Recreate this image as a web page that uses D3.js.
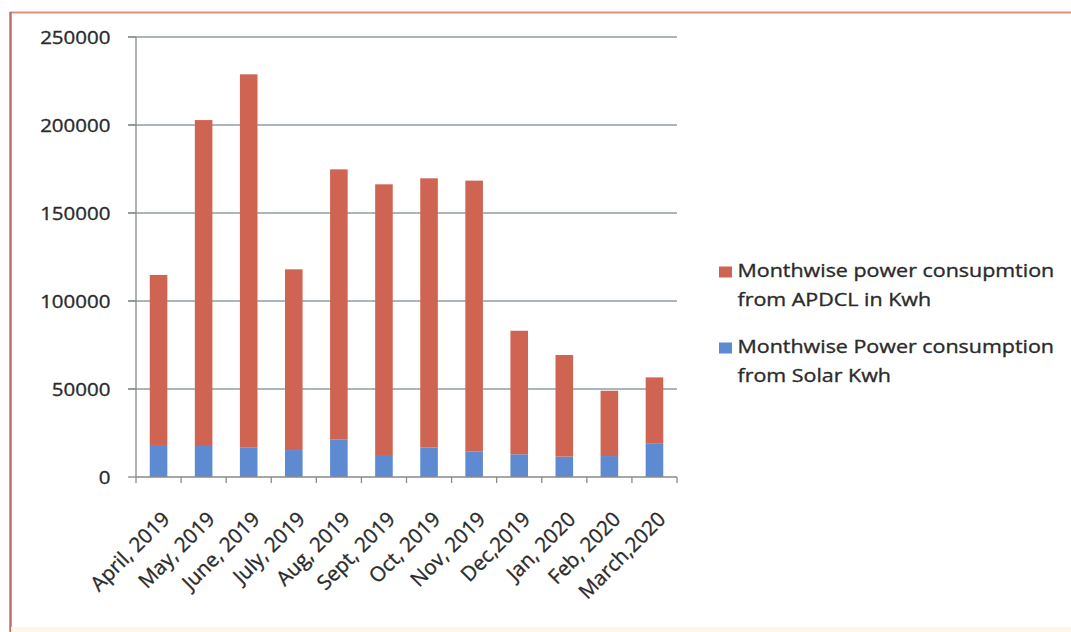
<!DOCTYPE html>
<html>
<head>
<meta charset="utf-8">
<script src="https://cdn.jsdelivr.net/npm/d3@7"></script>
<style>
  html, body { margin: 0; padding: 0; background: #ffffff; }
  svg { display: block; }
  text { font-family: "Open Sans", "DejaVu Sans", sans-serif; fill: #2b2b2b; stroke: #2b2b2b; stroke-width: 0.35px; }
</style>
</head>
<body>
<svg id="chart" width="1071" height="632"></svg>
<script>
// Monthly power consumption, April 2019 – March 2020 (kWh)
const months = ["April, 2019", "May, 2019", "June, 2019", "July, 2019", "Aug, 2019",
  "Sept, 2019", "Oct, 2019", "Nov, 2019", "Dec,2019", "Jan, 2020", "Feb, 2020", "March,2020"];
const solarKwh = [18200, 17600, 16900, 15300, 21400, 12500, 16700, 14400, 12900, 11600, 11900, 19200];
const apdclKwh = [96600, 185200, 211900, 102700, 153400, 153800, 153000, 154000, 70200, 57700, 37100, 37400];
const yTicks = [0, 50000, 100000, 150000, 200000, 250000];
const seriesNames = ["Monthwise power consupmtion from APDCL in Kwh", "Monthwise Power consumption from Solar Kwh"];
const legendLines = [["Monthwise power consupmtion", "from APDCL in Kwh"], ["Monthwise Power consumption", "from Solar Kwh"]];

const svg = d3.select("#chart");
const colors = { apdcl: "#cf6453", solar: "#5d8ad0" };

// outer frame
svg.append("rect").attr("x", 0).attr("y", 0).attr("width", 1071).attr("height", 632).attr("fill", "#ffffff");
svg.append("line").attr("x1", 10).attr("y1", 12.5).attr("x2", 1071).attr("y2", 12.5)
  .attr("stroke", "#e08f7c").attr("stroke-width", 2);
svg.append("line").attr("x1", 10.5).attr("y1", 12).attr("x2", 10.5).attr("y2", 632)
  .attr("stroke", "#c06f68").attr("stroke-width", 2.5);
svg.append("rect").attr("x", 11).attr("y", 627).attr("width", 1060).attr("height", 5)
  .attr("fill", "#fbf8e4");

const x = d3.scaleBand().domain(months).range([136, 677]).padding(0);
const y = d3.scaleLinear().domain([0, 250000]).range([477, 37]);

// gridlines
svg.append("g").selectAll("line").data(yTicks.filter(d => d > 0)).join("line")
  .attr("x1", 128).attr("x2", 677)
  .attr("y1", d => y(d)).attr("y2", d => y(d))
  .attr("stroke", "#8c9fa4").attr("stroke-width", 1.5);

// y axis
const yAxis = svg.append("g");
yAxis.append("line").attr("x1", 136).attr("x2", 136).attr("y1", y(250000)).attr("y2", y(0))
  .attr("stroke", "#8a8a8a").attr("stroke-width", 1.3);
yAxis.selectAll("line.tick").data(yTicks).join("line").attr("class", "tick")
  .attr("x1", 128).attr("x2", 136).attr("y1", d => y(d)).attr("y2", d => y(d))
  .attr("stroke", "#8a8a8a").attr("stroke-width", 1.3);
yAxis.selectAll("text").data(yTicks).join("text")
  .attr("transform", d => `translate(110.5,${y(d) + 6.5}) scale(1.08,1)`)
  .attr("text-anchor", "end")
  .style("font-size", "19px")
  .text(d => d);

// stacked bars: solar at the bottom, APDCL on top
const stackData = months.map((m, i) => ({ month: m, solar: solarKwh[i], apdcl: apdclKwh[i] }));
const stack = d3.stack().keys(["solar", "apdcl"])(stackData);
const barW = x.bandwidth() * 0.39;
svg.append("g").selectAll("g").data(stack).join("g")
  .attr("fill", s => colors[s.key])
  .selectAll("rect").data(s => s).join("rect")
  .attr("x", d => x(d.data.month) + (x.bandwidth() - barW) / 2)
  .attr("width", barW)
  .attr("y", d => y(d[1]))
  .attr("height", d => y(d[0]) - y(d[1]));

// x axis
const xAxis = svg.append("g");
xAxis.append("line").attr("x1", 136).attr("x2", 677).attr("y1", y(0)).attr("y2", y(0))
  .attr("stroke", "#8a8a8a").attr("stroke-width", 1.3);
const boundaries = months.map(m => x(m)).concat([x(months[months.length - 1]) + x.bandwidth()]);
xAxis.selectAll("line.tick").data(boundaries).join("line").attr("class", "tick")
  .attr("x1", d => d).attr("x2", d => d).attr("y1", y(0)).attr("y2", y(0) + 6)
  .attr("stroke", "#8a8a8a").attr("stroke-width", 1.3);
xAxis.selectAll("text").data(months).join("text")
  .attr("transform", d => `translate(${x(d) + x.bandwidth() / 2 + 2},${510}) rotate(-45)`)
  .attr("text-anchor", "end")
  .attr("dy", "0.72em")
  .style("font-size", "20.5px")
  .text(d => d);

// legend
const legend = svg.append("g");
const legendColors = [colors.apdcl, colors.solar];
const legendTop = [277, 353];
legendLines.forEach((lines, i) => {
  legend.append("rect").attr("x", 719).attr("y", legendTop[i] - 10.5).attr("width", 13).attr("height", 11)
    .attr("fill", legendColors[i]).append("title").text(seriesNames[i]);
  lines.forEach((t, j) => {
    legend.append("text")
      .attr("transform", `translate(737.5,${legendTop[i] + j * 29}) scale(1.16,1)`)
      .style("font-size", "18.5px")
      .text(t);
  });
});
</script>
</body>
</html>
